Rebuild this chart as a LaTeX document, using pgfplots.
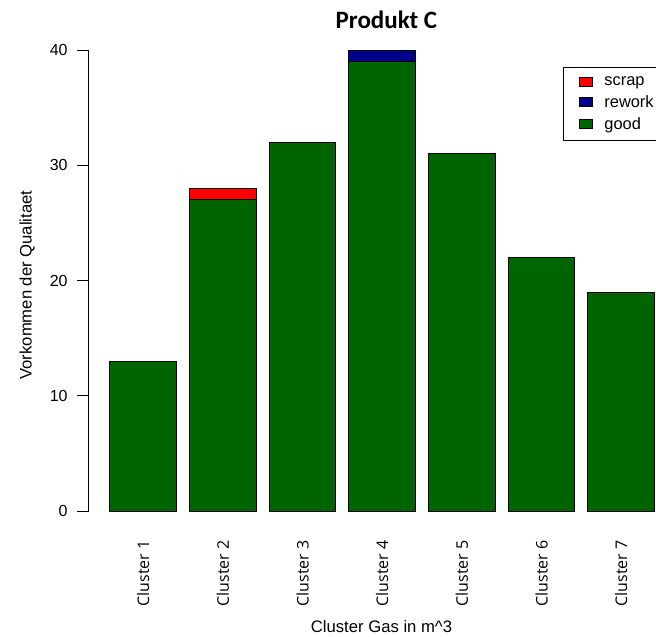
\documentclass[border=0pt]{standalone}
\usepackage{fontspec}
\setmainfont{Liberation Sans}
\newfontfamily\titlefont{Carlito}
\newfontfamily\clusterfont{Open Sans}
\usepackage{pgfplots}
\usepackage{pgfplotstable}
\pgfplotsset{compat=1.18}
\definecolor{scrapred}{RGB}{255,0,0}
\definecolor{reworkblue}{RGB}{0,0,139}
\definecolor{goodgreen}{RGB}{0,100,0}

% stacked from bottom: good, rework, scrap
\pgfplotstableread{
idx good rework scrap
1 13 0 0
2 27 0 1
3 32 0 0
4 39 1 0
5 31 0 0
6 22 0 0
7 19 0 0
}\qualdata

\pgfplotsset{
  legbox/.style={legend image code/.code={
    \draw[##1,draw=black,line width=0.75pt] (0pt,-3.4pt) rectangle (9.75pt,3.4pt);}},
}

\begin{document}
\begin{tikzpicture}
\useasboundingbox (0,0) rectangle (492pt,477pt);
\clip (0,0) rectangle (492pt,477pt);
\begin{axis}[
  at={(66.375pt,93.75pt)}, anchor=south west,
  scale only axis, width=425.625pt, height=345.75pt,
  xmin=0.314, xmax=7.437, ymin=0, ymax=40,
  ybar stacked, bar width=0.8333,
  clip=false,
  axis y line*=left, axis x line*=bottom,
  x axis line style={draw=none},
  y axis line style={line width=0.75pt},
  major x tick style={draw=none},
  major y tick style={line width=0.75pt,black},
  tick align=outside, major tick length=8.25pt,
  ytick={0,10,20,30,40},
  xtick={1,2,3,4,5,6,7},
  xticklabels={Cluster 1,Cluster 2,Cluster 3,Cluster 4,Cluster 5,Cluster 6,Cluster 7},
  xticklabel style={rotate=90, anchor=east, inner sep=0pt,
    font=\clusterfont\fontsize{12}{14}\selectfont},
  xticklabel shift=13.5pt,
  yticklabel style={anchor=east, inner sep=0pt, font=\fontsize{12}{14}\selectfont},
  yticklabel shift=7.2pt,
  /pgf/number format/assume math mode=true,
  title={Produkt C},
  every axis title/.style={at={(axis description cs:0.525,1.0462)}, anchor=base,
    font=\titlefont\bfseries\fontsize{18.75}{22}\selectfont},
  xlabel={Cluster Gas in m\textasciicircum 3},
  every axis x label/.style={at={(axis description cs:0.5163,-0.2625)}, anchor=base,
    font=\fontsize{12.5}{15}\selectfont},
  ylabel={Vorkommen der Qualitaet},
  every axis y label/.style={at={(axis description cs:-0.1,0.490)}, rotate=90, anchor=base,
    font=\fontsize{12.5}{15}\selectfont},
  legend style={at={(axis description cs:0.836,0.9633)}, anchor=north west,
    draw=black, line width=0.75pt,
    inner xsep=12pt, inner ysep=5pt,
    font=\fontsize{12.3}{14}\selectfont,
    row sep=1.9pt,
    nodes={inner xsep=0pt, inner ysep=2pt},
    /tikz/every odd column/.append style={column sep=8.25pt}},
  legend cell align=left,
]
\addplot[fill=goodgreen, draw=black, line width=0.75pt, forget plot] table[x=idx,y=good] {\qualdata};
\addplot[fill=reworkblue, draw=black, line width=0.75pt, forget plot] table[x=idx,y=rework] {\qualdata};
\addplot[fill=scrapred, draw=black, line width=0.75pt, forget plot] table[x=idx,y=scrap] {\qualdata};
\addlegendimage{legbox, fill=scrapred}
\addlegendentry{scrap}
\addlegendimage{legbox, fill=reworkblue}
\addlegendentry{rework}
\addlegendimage{legbox, fill=goodgreen}
\addlegendentry{good}
\end{axis}
\end{tikzpicture}
\end{document}
